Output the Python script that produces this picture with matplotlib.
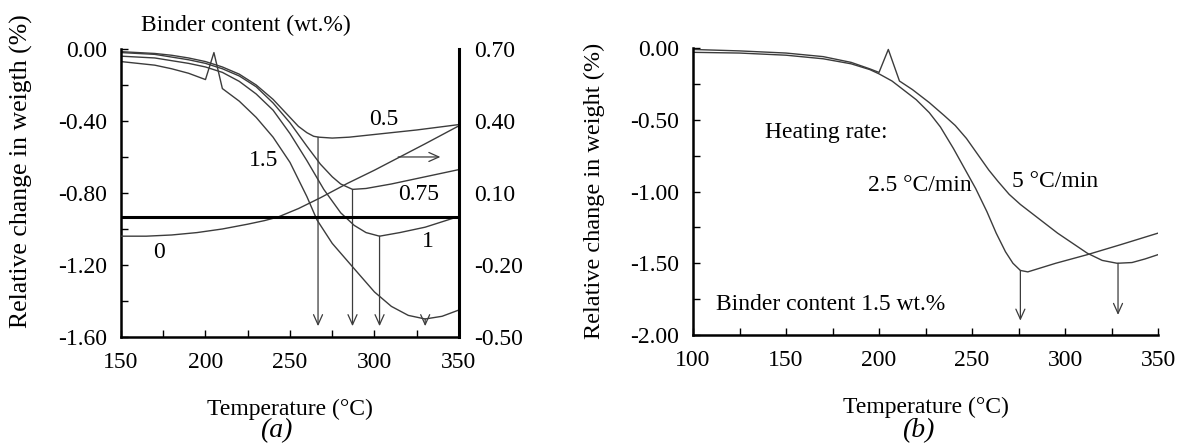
import matplotlib
matplotlib.use("Agg")
import matplotlib.pyplot as plt
from matplotlib.ticker import MultipleLocator, FormatStrFormatter

# ----------------------------
# Data
# ----------------------------
# (a) binder content series, left axis: relative change in weight (%)
t_a05 = [150, 160, 170, 180, 190, 200, 210, 220, 230, 240, 248, 255, 260, 264, 267, 275, 285, 300, 325, 350]
w_a05 = [-0.015, -0.02, -0.025, -0.035, -0.05, -0.07, -0.10, -0.14, -0.20, -0.28, -0.36, -0.43, -0.465, -0.485,
         -0.49, -0.495, -0.49, -0.475, -0.45, -0.42]

t_a075 = [150, 170, 190, 200, 210, 220, 230, 240, 250, 260, 268, 275, 280, 287, 295, 310, 330, 350]
w_a075 = [-0.02, -0.03, -0.06, -0.08, -0.11, -0.15, -0.21, -0.30, -0.41, -0.54, -0.64, -0.71, -0.75, -0.78,
          -0.775, -0.75, -0.71, -0.67]

t_a1 = [150, 170, 190, 200, 210, 220, 230, 240, 250, 260, 270, 280, 288, 295, 303, 315, 330, 350]
w_a1 = [-0.04, -0.05, -0.08, -0.10, -0.13, -0.18, -0.25, -0.34, -0.47, -0.62, -0.78, -0.91, -0.98, -1.02,
        -1.04, -1.02, -0.99, -0.93]

t_a15 = [150, 160, 170, 180, 190, 200, 205, 210, 220, 230, 240, 250, 260, 266, 275, 287, 300, 310, 320, 330, 340, 350]
w_a15 = [-0.07, -0.08, -0.09, -0.11, -0.135, -0.17, -0.02, -0.22, -0.29, -0.38, -0.49, -0.63, -0.82, -0.95,
         -1.08, -1.21, -1.35, -1.43, -1.48, -1.50, -1.485, -1.45]

# (a) binder-free series, right axis
t_a0 = [150, 165, 180, 195, 210, 225, 235, 243, 255, 268, 284, 300, 315, 330, 350]
w_a0 = [-0.08, -0.08, -0.075, -0.065, -0.05, -0.03, -0.015, 0.0, 0.035, 0.08, 0.14, 0.195, 0.25, 0.305, 0.38]

# (a) minima marked with arrows
arrow_a_t = [266.6, 287, 303, 330]
arrow_a_w = [-0.49, -0.78, -1.04, -1.50]
arrow_a_tip = -1.54

# (b) heating rate series, binder content 1.5 wt.%
t_b25 = [100, 125, 150, 170, 185, 195, 200, 207, 213, 220, 227, 233, 240, 246, 252, 258, 263, 268, 272, 276,
         280, 295, 312, 330, 350]
w_b25 = [-0.03, -0.035, -0.05, -0.075, -0.11, -0.15, -0.18, -0.23, -0.29, -0.36, -0.45, -0.55, -0.70, -0.84,
         -0.98, -1.14, -1.29, -1.42, -1.50, -1.55, -1.56, -1.50, -1.44, -1.37, -1.29]

t_b5 = [100, 125, 150, 170, 185, 195, 200, 205, 211, 218, 227, 235, 241, 247, 253, 259, 264, 270, 276, 282,
        289, 296, 304, 312, 320, 328, 336, 343, 350]
w_b5 = [-0.01, -0.02, -0.035, -0.06, -0.10, -0.145, -0.17, -0.01, -0.23, -0.29, -0.38, -0.47, -0.54, -0.63,
        -0.74, -0.85, -0.93, -1.02, -1.09, -1.15, -1.22, -1.29, -1.36, -1.43, -1.48, -1.50, -1.495, -1.47, -1.44]

arrow_b_t = [276, 328.5]
arrow_b_w = [-1.55, -1.50]
arrow_b_tip = [-1.90, -1.86]

# ----------------------------
# Style
# ----------------------------
plt.rcParams["font.family"] = ["Liberation Serif", "DejaVu Serif"]
plt.rcParams["axes.unicode_minus"] = False

LINE = "#3c3c3c"
FS = 17
ARROW = dict(arrowstyle="->,head_length=0.4,head_width=0.18", mutation_scale=18,
             lw=0.9, color=LINE, shrinkA=0, shrinkB=0)


def style_ticks(ax):
    ax.tick_params(which="both", direction="in", length=5, width=1.0, labelsize=FS)
    ax.tick_params(axis="x", which="both", pad=11)
    ax.tick_params(axis="y", which="both", pad=10)


fig = plt.figure(figsize=(11.79, 4.48), dpi=100)

# ----------------------------
# Panel (a)
# ----------------------------
axa = fig.add_axes([0.1026, 0.2478, 0.2867, 0.6429])
axa.set_xlim(150, 350)
axa.set_ylim(-1.6, 0.0)
axa.spines["top"].set_visible(False)
for s in ("left", "bottom", "right"):
    axa.spines[s].set_linewidth(1.8)
axa.xaxis.set_major_locator(MultipleLocator(50))
axa.xaxis.set_minor_locator(MultipleLocator(25))
axa.yaxis.set_major_locator(MultipleLocator(0.4))
axa.yaxis.set_minor_locator(MultipleLocator(0.2))
axa.yaxis.set_major_formatter(FormatStrFormatter("%.2f"))
style_ticks(axa)

axa.plot(t_a05, w_a05, color=LINE, lw=1.0)
axa.plot(t_a075, w_a075, color=LINE, lw=1.0)
axa.plot(t_a1, w_a1, color=LINE, lw=1.0)
axa.plot(t_a15, w_a15, color=LINE, lw=1.0)

for t, w in zip(arrow_a_t, arrow_a_w):
    axa.annotate("", xy=(t, arrow_a_tip), xytext=(t, w), arrowprops=ARROW)
axa.annotate("", xy=(339, -0.60), xytext=(314, -0.60), arrowprops=ARROW)

axr = axa.twinx()
axr.set_ylim(-0.5, 0.7)
axr.set_yticks([-0.5, -0.2, 0.1, 0.4, 0.7])
axr.yaxis.set_major_formatter(FormatStrFormatter("%.2f"))
axr.tick_params(axis="y", length=0, labelsize=FS, pad=11)
for s in ("top", "left", "bottom"):
    axr.spines[s].set_visible(False)
axr.spines["right"].set_linewidth(2.2)
axr.plot(t_a0, w_a0, color=LINE, lw=1.0)
axr.axhline(0.0, color="black", lw=2.2)

axa.text(297, -0.39, "0.5", fontsize=FS, va="center")
axa.text(226, -0.62, "1.5", fontsize=FS, va="center")
axa.text(314, -0.81, "0.75", fontsize=FS, va="center")
axa.text(169, -1.13, "0", fontsize=FS, va="center")
axa.text(328, -1.07, "1", fontsize=FS, va="center")
axa.text(0.37, 1.083, "Binder content (wt.%)", transform=axa.transAxes,
         fontsize=FS, ha="center", va="center")

axa.set_xlabel("Temperature (°C)", fontsize=FS)
axa.xaxis.set_label_coords(0.5, -0.215)
axa.set_ylabel("Relative change in weigth (%)", fontsize=18.5)
axa.yaxis.set_label_coords(-0.26, 0.576)
fig.text(276 / 1179, 1 - 431 / 448, "(a)", fontsize=20, style="italic", ha="center", va="center")

# ----------------------------
# Panel (b)
# ----------------------------
axb = fig.add_axes([0.5878, 0.2522, 0.3944, 0.6406])
axb.set_xlim(100, 350)
axb.set_ylim(-2.0, 0.0)
axb.spines["top"].set_visible(False)
axb.spines["right"].set_visible(False)
for s in ("left", "bottom"):
    axb.spines[s].set_linewidth(1.8)
axb.xaxis.set_major_locator(MultipleLocator(50))
axb.xaxis.set_minor_locator(MultipleLocator(25))
axb.yaxis.set_major_locator(MultipleLocator(0.5))
axb.yaxis.set_minor_locator(MultipleLocator(0.25))
axb.yaxis.set_major_formatter(FormatStrFormatter("%.2f"))
style_ticks(axb)

axb.plot(t_b25, w_b25, color=LINE, lw=1.0)
axb.plot(t_b5, w_b5, color=LINE, lw=1.0)
for t, w, tip in zip(arrow_b_t, arrow_b_w, arrow_b_tip):
    axb.annotate("", xy=(t, tip), xytext=(t, w), arrowprops=ARROW)

axb.text(138.7, -0.59, "Heating rate:", fontsize=FS, va="center")
axb.text(194, -0.96, "2.5 °C/min", fontsize=FS, va="center")
axb.text(271.5, -0.93, "5 °C/min", fontsize=FS, va="center")
axb.text(112.4, -1.79, "Binder content 1.5 wt.%", fontsize=FS, va="center")

axb.set_xlabel("Temperature (°C)", fontsize=FS)
axb.xaxis.set_label_coords(0.5, -0.215)
axb.set_ylabel("Relative change in weight (%)", fontsize=17.5)
axb.yaxis.set_label_coords(-0.189, 0.503)
fig.text(918 / 1179, 1 - 431 / 448, "(b)", fontsize=20, style="italic", ha="center", va="center")

fig.savefig("out.png", dpi=100)
